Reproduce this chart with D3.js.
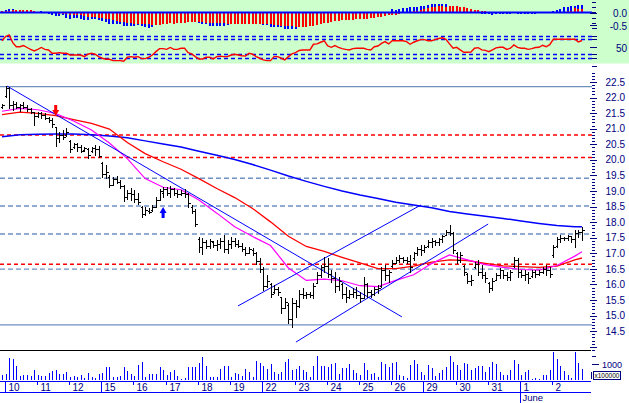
<!DOCTYPE html>
<html><head><meta charset="utf-8">
<script src="https://cdn.jsdelivr.net/npm/d3@7"></script>
<style>html,body{margin:0;padding:0;background:#fff;overflow:hidden}svg{display:block}</style>
</head><body><svg id="c" width="629" height="403"></svg>
<script>
// ---------------- DATA ----------------
const days = ["10","11","12","15","16","17","18","19","22","23","24","25","26","29","30","31","1","2"];
const monthLabel = "June";
const monthDayIndex = 16;
const longTickDays = [0,3,8,13];
const barsPerDay = 9;
const firstDayBar = 1;

const high = [21.78,
22.37,22.33,21.90,21.87,21.80,21.87,21.76,21.65,21.55,
21.55,21.55,21.49,21.37,21.33,21.07,20.90,20.96,21.01,
20.64,20.55,20.53,20.48,20.42,20.37,20.42,20.48,20.45,
19.94,19.83,19.51,19.46,19.48,19.35,19.20,19.03,19.09,
19.03,18.93,18.52,18.50,18.44,18.55,18.80,19.08,19.14,
19.14,19.16,19.09,19.03,19.03,19.05,18.93,18.55,18.41,
17.51,17.48,17.43,17.45,17.40,17.43,17.48,17.59,17.43,
17.53,17.48,17.43,17.32,17.21,17.21,17.16,17.05,16.84,
16.57,16.30,16.04,15.98,15.93,15.61,15.55,15.39,15.55,
15.50,15.82,15.88,15.77,15.77,16.04,16.41,16.63,16.89,
16.84,16.46,16.41,16.25,16.04,15.93,15.82,15.88,15.93,
15.77,16.25,16.04,15.82,15.93,15.98,16.57,16.63,16.46,
16.79,16.89,16.95,16.89,16.89,16.95,17.05,17.21,17.27,
17.27,17.43,17.48,17.43,17.48,17.59,17.75,17.91,17.70,
17.05,17.05,16.63,16.36,16.30,16.73,16.79,16.63,16.41,
16.09,16.20,16.36,16.52,16.46,16.41,16.46,16.89,16.84,
16.46,16.46,16.41,16.46,16.46,16.46,16.57,16.63,16.57,
17.27,17.53,17.59,17.53,17.59,17.53,17.75,17.75,17.85];
const low = [21.68,
22.03,21.65,21.60,21.65,21.58,21.65,21.58,21.49,21.12,
21.39,21.36,21.30,21.23,21.07,20.45,20.58,20.66,20.77,
20.26,20.37,20.30,20.26,20.29,20.05,20.26,20.16,20.08,
19.46,19.41,19.12,19.19,19.25,19.09,18.69,18.76,18.71,
18.66,18.58,18.18,18.23,18.28,18.37,18.48,18.70,18.82,
18.87,18.82,18.87,18.82,18.87,18.82,18.50,18.28,17.88,
17.05,16.98,17.16,17.16,17.21,17.11,17.18,17.05,17.02,
17.16,17.23,17.21,17.09,16.95,17.00,16.95,16.66,16.41,
15.82,15.93,15.61,15.72,15.66,15.07,15.23,14.75,14.65,
14.97,15.29,15.56,15.56,15.61,15.55,16.04,16.25,16.41,
16.25,16.09,15.77,15.82,15.56,15.45,15.56,15.61,15.56,
15.45,15.55,15.61,15.61,15.66,15.72,15.93,16.14,16.09,
16.57,16.68,16.73,16.73,16.68,16.41,16.79,16.95,16.95,
17.05,17.21,17.21,17.27,17.27,17.37,17.59,17.59,17.00,
16.68,16.73,16.30,16.04,15.98,16.52,16.30,16.20,16.09,
15.77,15.82,16.14,16.20,16.20,16.14,16.14,16.57,16.25,
16.25,16.14,16.04,16.25,16.25,16.30,16.36,16.30,16.25,
16.89,17.21,17.37,17.43,17.43,17.37,17.21,17.53,17.43];
const open = [21.70,
22.05,22.30,21.75,21.80,21.70,21.75,21.70,21.62,21.55,
21.42,21.50,21.45,21.35,21.28,21.05,20.70,20.80,20.80,
20.60,20.40,20.50,20.40,20.32,20.35,20.28,20.38,20.35,
19.90,19.55,19.45,19.20,19.38,19.30,19.15,18.80,18.95,
18.90,18.75,18.50,18.25,18.35,18.40,18.50,18.70,18.95,
19.05,18.95,19.05,18.95,18.90,18.95,18.90,18.50,18.35,
17.45,17.20,17.35,17.25,17.35,17.28,17.30,17.40,17.15,
17.30,17.40,17.30,17.25,17.15,17.00,17.10,17.00,16.75,
16.50,15.95,16.00,15.75,15.85,15.60,15.25,15.35,14.90,
15.40,15.30,15.70,15.65,15.70,15.65,16.05,16.30,16.55,
16.60,16.35,16.20,15.95,16.00,15.70,15.60,15.70,15.75,
15.65,15.55,16.00,15.75,15.70,15.85,15.95,16.45,16.30,
16.60,16.70,16.80,16.85,16.80,16.75,16.85,17.00,17.15,
17.10,17.22,17.35,17.40,17.35,17.45,17.60,17.70,17.65,
17.00,16.80,16.60,16.35,16.10,16.55,16.65,16.40,16.30,
16.05,15.90,16.15,16.30,16.45,16.30,16.25,16.60,16.80,
16.40,16.30,16.35,16.28,16.40,16.35,16.40,16.50,16.45,
16.95,17.25,17.45,17.50,17.48,17.55,17.45,17.65,17.70];
const close = [21.75,
22.30,21.75,21.80,21.70,21.75,21.70,21.62,21.55,21.40,
21.50,21.45,21.35,21.28,21.15,20.70,20.80,20.75,20.90,
20.35,20.50,20.40,20.30,20.38,20.15,20.38,20.35,20.12,
19.55,19.60,19.20,19.40,19.30,19.15,18.80,18.95,18.90,
18.75,18.65,18.25,18.40,18.32,18.50,18.70,19.00,19.05,
18.95,19.05,18.95,18.90,18.95,18.90,18.60,18.35,17.95,
17.20,17.35,17.25,17.40,17.28,17.30,17.40,17.15,17.30,
17.40,17.30,17.25,17.15,17.00,17.15,17.00,16.75,16.50,
15.95,16.10,15.70,15.85,15.75,15.25,15.45,14.90,15.40,
15.30,15.70,15.65,15.70,15.65,15.95,16.30,16.55,16.60,
16.35,16.20,15.95,16.10,15.70,15.60,15.70,15.75,15.65,
15.55,16.00,15.75,15.70,15.85,15.90,16.45,16.30,16.40,
16.70,16.80,16.85,16.80,16.75,16.55,17.00,17.15,17.10,
17.20,17.35,17.40,17.35,17.45,17.55,17.70,17.65,17.10,
16.80,16.95,16.40,16.10,16.15,16.65,16.40,16.30,16.20,
15.90,16.10,16.30,16.45,16.30,16.25,16.40,16.80,16.40,
16.30,16.35,16.20,16.40,16.35,16.40,16.50,16.45,16.35,
17.20,17.45,17.50,17.48,17.55,17.45,17.65,17.70,17.75];

const volume = [333,354,1354,1312,875,271,312,312,271,625,
312,271,271,417,562,625,375,375,521,208,
271,208,312,104,458,208,104,354,417,833,
792,167,167,250,833,562,354,250,937,1104,
167,375,375,375,833,625,312,521,625,250,
62,104,833,833,833,1083,1458,875,208,167,
208,687,875,875,208,417,354,250,687,521,
208,1187,1083,875,667,1000,479,354,521,1146,
1312,625,667,875,625,521,208,875,
1521,875,875,833,1000,1042,354,729,729,1000,
625,417,312,1042,625,375,458,208,1104,1000,
833,1042,1104,312,250,146,937,1250,1000,521,
312,937,729,250,417,625,833,1521,1146,937,
625,1083,1000,625,729,875,896,521,833,1146,
1000,521,312,312,625,1250,1000,312,521,625,
42,104,62,312,312,625,1771,1312,875,583,
312,104,1771,1083,667];

const macd = [0.04,0.10,0.13,0.13,0.10,0.08,0.07,0.06,0.05,0.03,0.03,0.05,0.01,
-0.07,-0.10,-0.14,-0.14,-0.10,-0.20,-0.24,-0.20,-0.20,-0.24,
-0.28,-0.30,-0.24,-0.24,-0.28,-0.33,-0.37,-0.46,-0.46,-0.46,-0.46,
-0.54,-0.54,-0.54,-0.54,-0.50,-0.54,-0.56,-0.60,-0.56,
-0.45,-0.40,-0.38,-0.36,-0.34,-0.33,-0.32,-0.31,-0.30,-0.31,-0.33,-0.36,
-0.43,-0.46,-0.46,-0.54,-0.54,-0.54,-0.54,-0.54,-0.50,
-0.44,-0.42,-0.40,-0.40,-0.41,-0.40,-0.41,-0.43,-0.45,
-0.50,-0.50,-0.56,-0.56,-0.56,-0.56,-0.63,-0.63,-0.63,-0.63,
-0.52,-0.50,-0.48,-0.45,-0.40,-0.35,-0.30,-0.25,-0.24,-0.22,-0.20,-0.22,-0.20,-0.22,-0.20,-0.18,-0.18,-0.20,-0.14,-0.15,-0.14,-0.12,-0.12,-0.06,-0.06,-0.04,
0.12,0.09,0.12,0.16,0.16,0.20,0.22,
0.22,0.25,0.25,0.29,0.33,0.35,0.33,0.35,0.33,0.24,0.22,
0.18,0.12,0.08,0.05,0.02,0.0,-0.02,-0.04,-0.05,-0.06,-0.10,
-0.04,-0.05,-0.04,-0.07,-0.05,-0.03,-0.04,-0.05,-0.04,-0.05,-0.04,-0.04,-0.02,-0.01,0.0,0.02,
0.05,0.09,0.13,0.20,0.22,0.25,0.25,0.29,0.29];
const signal = [0.05,0.06,0.07,0.09,0.10,0.09,0.09,0.09,0.09,0.06,0.02,0.02,0.0,
-0.01,-0.02,-0.03,-0.04,-0.05,-0.06,-0.08,-0.09,-0.10,-0.11,
-0.14,-0.17,-0.18,-0.19,-0.20,-0.22,-0.24,-0.26,-0.30,-0.33,-0.37,
-0.37,-0.41,-0.43,-0.44,-0.45,-0.46,-0.47,-0.46,-0.50,
-0.50,-0.50,-0.46,-0.46,-0.43,-0.46,-0.43,-0.41,-0.41,-0.37,-0.37,-0.37,
-0.37,-0.37,-0.40,-0.43,-0.43,-0.43,-0.43,-0.43,-0.46,
-0.46,-0.46,-0.46,-0.46,-0.46,-0.46,-0.46,-0.46,-0.46,
-0.46,-0.46,-0.46,-0.50,-0.50,-0.54,-0.54,-0.54,-0.54,-0.56,
-0.56,-0.56,-0.56,-0.54,-0.54,-0.50,-0.46,-0.43,-0.41,-0.37,-0.33,-0.33,-0.30,-0.30,-0.28,-0.28,-0.26,-0.24,-0.24,-0.24,-0.20,-0.20,-0.17,-0.17,-0.14,-0.10,
-0.08,-0.08,-0.04,-0.01,0.02,0.03,0.05,
0.05,0.08,0.12,0.16,0.20,0.22,0.25,0.25,0.22,0.25,0.25,
0.24,0.22,0.20,0.16,0.12,0.09,0.08,0.06,0.05,0.03,0.01,
0.0,-0.01,-0.02,-0.02,-0.03,-0.03,-0.03,-0.03,-0.03,-0.03,-0.03,-0.03,-0.03,-0.02,-0.02,-0.01,
0.0,0.01,0.02,0.03,0.05,0.07,0.16,0.12,0.14];

const osc = [66,77,81.5,61,50,50,53,48,43,39,43,48,43,41.5,32.6,32.6,34.3,32.6,32.6,28,
28,28,28,23.6,30,32.6,30,23.6,19.3,16.7,16.7,13,13,13,11.3,22,23.6,22,23.6,18.3,
18.3,22,28,37,45,45,43,48,43,43,46,46,34.3,30.8,23.6,17.5,17.5,22,22,
17.5,23.6,25,23.6,23.6,28,30,28,26,25,32.6,30,23.6,19.3,15,13,13,23.6,23.6,19.3,
15,23.6,30.8,34.3,40,41.5,41.5,41.5,56.6,57.5,62,66,52,48.5,53,48.5,45,43,41.5,45,
46,46,46,43,41.5,50,52,59,63.7,57.5,66,66,66,66,63.7,56.6,62,66,
69,69,66,66,69,72,74,70,57.5,46,48.5,41.5,35.3,35.3,36,46,47.7,41.5,40.5,37,
41.5,47,48.5,48.5,43,46,55,48.5,46,46,43,45,48,48.5,54,50,55.7,70,70,70,
70,70,70,70,63,66.6];

const maIdx = [0,5,10,15,20,25,30,35,40,45,50,55,60,65,70,75,80,85,90,95,100,105,110,115,120,125,130,135,140,145,150,155,160,162];
const maLong = [20.74,20.81,20.82,20.83,20.83,20.81,20.77,20.71,20.61,20.51,20.41,20.28,20.15,20.01,19.85,19.67,19.48,19.31,19.15,19.00,18.87,18.76,18.64,18.55,18.46,18.34,18.26,18.19,18.12,18.04,17.96,17.89,17.85,17.85];
const maMid = [21.45,21.53,21.49,21.42,21.29,21.17,20.99,20.56,20.20,19.94,19.70,19.40,19.08,18.79,18.44,18.01,17.55,17.22,17.06,16.87,16.69,16.51,16.51,16.59,16.72,16.79,16.77,16.68,16.60,16.57,16.55,16.59,16.79,16.85];
const maShort = [21.56,21.65,21.61,21.49,21.25,20.96,20.54,20.04,19.40,19.12,19.04,18.71,18.29,17.85,17.54,17.25,16.53,16.13,16.17,16.12,15.96,15.93,16.13,16.31,16.67,16.95,16.79,16.64,16.55,16.48,16.46,16.61,16.91,17.05];

const solidLevels = [22.35, 14.70];
const blueDashLevels = [19.41, 18.52, 17.62, 16.49];
const redDashLevels = [20.80, 20.08, 16.65];
const trendLines = [[1.4,22.37,111.7,14.96],[65.9,15.31,117.0,18.55],[82.1,14.15,135.8,17.94]];
const sellArrows = [[15, 21.41]];
const buyArrows = [[45, 18.49]];

const priceLabels = d3.range(14.5, 22.51, 0.5);
const oscLevels = [80, 70, 30, 20];
const oscTicks = [0, 20, 30, 50, 70, 80, 100];
const histLabels = [0.0, -0.5];
const volLabel = 1000;

// ---------------- DRAW ----------------
const svg = d3.select('#c');
const navy = '#000080';
const font = '"Liberation Sans", Arial, sans-serif';
const plotR = 592;
const n = high.length;

const x = d3.scaleLinear().domain([0, n - 1]).range([2, 2 + 3.58 * (n - 1)]);
const yP = d3.scaleLinear().domain([14.5, 22.5]).range([331.2, 82]);
const yH = d3.scaleLinear().domain([-0.5, 0]).range([25.2, 12.5]);
const yO = d3.scaleLinear().domain([0, 100]).range([65.5, 28]);
const yV = d3.scaleLinear().domain([0, 1000]).range([380, 364]);
const px = i => Math.round(x(i)) + 0.5;

// top panel background
svg.append('rect').attr('x',0).attr('y',0).attr('width',629).attr('height',63.5).attr('fill','#ccffcc');

// histogram (blue behind, red in front)
const gH = svg.append('g').attr('shape-rendering','crispEdges');
[[macd,'#0000ff'],[signal,'#ff0000']].forEach(([arr,col]) => {
  gH.selectAll(null).data(arr).enter().append('rect')
    .attr('x',(d,i)=>Math.round(x(i))-1).attr('width',2)
    .attr('y',d=>Math.min(yH(d),yH(0))).attr('height',d=>Math.abs(yH(d)-yH(0)))
    .attr('fill',col);
});
svg.append('line').attr('x1',0).attr('x2',plotR).attr('y1',yH(0)).attr('y2',yH(0))
  .attr('stroke','#0000ff').attr('stroke-width',2);

// oscillator
svg.selectAll(null).data(oscLevels).enter().append('line')
  .attr('x1',0).attr('x2',plotR).attr('y1',d=>Math.round(yO(d))+0.5).attr('y2',d=>Math.round(yO(d))+0.5)
  .attr('stroke','#0000ff').attr('stroke-width',1.3).attr('stroke-dasharray','4,3');
svg.append('path').datum(osc).attr('fill','none').attr('stroke','#ff0000').attr('stroke-width',1.4)
  .attr('d', d3.line().x((d,i)=>x(i)).y(d=>yO(d)));

// top axes ticks + labels
const gT = svg.append('g').attr('stroke',navy).attr('shape-rendering','crispEdges');
d3.range(-0.6, 0.41, 0.2).forEach(v => gT.append('line').attr('x1',592).attr('x2',596).attr('y1',Math.round(yH(v))+0.5).attr('y2',Math.round(yH(v))+0.5));
histLabels.forEach(v => gT.append('line').attr('x1',590).attr('x2',597).attr('y1',Math.round(yH(v))+0.5).attr('y2',Math.round(yH(v))+0.5));
oscTicks.forEach(v => gT.append('line').attr('x1',v===50?590:592).attr('x2',597).attr('y1',Math.round(yO(v))+0.5).attr('y2',Math.round(yO(v))+0.5));
histLabels.forEach(v => svg.append('text').attr('x',627).attr('y',yH(v)+4.5).attr('text-anchor','end')
  .attr('font-family',font).attr('font-size',10).attr('fill',navy).text(v.toFixed(1)));
svg.append('text').attr('x',627).attr('y',yO(50)+5).attr('text-anchor','end')
  .attr('font-family',font).attr('font-size',10).attr('fill',navy).text('50');

// main grid lines
const gG = svg.append('g');
gG.selectAll(null).data(solidLevels).enter().append('line')
  .attr('x1',0).attr('x2',plotR).attr('y1',d=>yP(d)).attr('y2',d=>yP(d))
  .attr('stroke','#7090c0').attr('stroke-width',1.3);
gG.selectAll(null).data(blueDashLevels).enter().append('line')
  .attr('x1',0).attr('x2',plotR).attr('y1',d=>yP(d)).attr('y2',d=>yP(d))
  .attr('stroke','#7090c0').attr('stroke-width',1.3).attr('stroke-dasharray','5,3');
gG.selectAll(null).data(redDashLevels).enter().append('line')
  .attr('x1',0).attr('x2',plotR).attr('y1',d=>yP(d)).attr('y2',d=>yP(d))
  .attr('stroke','#ff0000').attr('stroke-width',1.5).attr('stroke-dasharray','4,3');

// price axis
const gA = svg.append('g').attr('stroke',navy).attr('shape-rendering','crispEdges');
d3.range(139, 229).forEach(k => {
  const v = k / 10; const yy = Math.round(yP(v)) + 0.5;
  const major = k % 5 === 0;
  gA.append('line').attr('x1', major ? 590 : 592).attr('x2', major ? 597 : 595).attr('y1',yy).attr('y2',yy);
});
svg.selectAll(null).data(priceLabels).enter().append('text')
  .attr('x',625).attr('y',d=>yP(d)+3.6).attr('text-anchor','end')
  .attr('font-family',font).attr('font-size',10).attr('fill',navy).text(d=>d.toFixed(1));

// moving averages
const maLine = arr => d3.line().x((d,k)=>x(maIdx[k])).y(d=>yP(d))(arr);
svg.append('path').attr('d',maLine(maLong)).attr('fill','none').attr('stroke','#0000ff').attr('stroke-width',1.5);
svg.append('path').attr('d',maLine(maMid)).attr('fill','none').attr('stroke','#ff0000').attr('stroke-width',1.3);
svg.append('path').attr('d',maLine(maShort)).attr('fill','none').attr('stroke','#ff00ff').attr('stroke-width',1.2);

// trend lines
svg.selectAll(null).data(trendLines).enter().append('line')
  .attr('x1',d=>x(d[0])).attr('y1',d=>yP(d[1])).attr('x2',d=>x(d[2])).attr('y2',d=>yP(d[3]))
  .attr('stroke','#0000ff').attr('stroke-width',1);

// price bars
const gB = svg.append('g').attr('stroke','#000').attr('stroke-width',1).attr('shape-rendering','crispEdges');
for (let i = 0; i < n; i++) {
  const cx = px(i);
  gB.append('line').attr('x1',cx).attr('x2',cx).attr('y1',Math.round(yP(high[i]))).attr('y2',Math.round(yP(low[i]))+1);
  gB.append('line').attr('x1',cx-2).attr('x2',cx).attr('y1',Math.round(yP(open[i]))+0.5).attr('y2',Math.round(yP(open[i]))+0.5);
  gB.append('line').attr('x1',cx).attr('x2',cx+2).attr('y1',Math.round(yP(close[i]))+0.5).attr('y2',Math.round(yP(close[i]))+0.5);
}

// arrows
sellArrows.forEach(([i,p]) => {
  const cx = x(i), ty = yP(p);
  svg.append('path').attr('fill','#ff0000')
    .attr('d',`M${cx},${ty} L${cx-3.5},${ty-6} L${cx-1.5},${ty-6} L${cx-1.5},${ty-11} L${cx+1.5},${ty-11} L${cx+1.5},${ty-6} L${cx+3.5},${ty-6} Z`);
});
buyArrows.forEach(([i,p]) => {
  const cx = x(i), ty = yP(p);
  svg.append('path').attr('fill','#0000ff')
    .attr('d',`M${cx},${ty} L${cx-3.5},${ty+6} L${cx-1.5},${ty+6} L${cx-1.5},${ty+11} L${cx+1.5},${ty+11} L${cx+1.5},${ty+6} L${cx+3.5},${ty+6} Z`);
});

// volume panel
svg.append('line').attr('x1',0).attr('x2',591).attr('y1',350.5).attr('y2',350.5).attr('stroke','#000').attr('stroke-width',1.2);
const gV = svg.append('g').attr('stroke','#0000ff').attr('shape-rendering','crispEdges');
volume.forEach((v,i) => {
  gV.append('line').attr('x1',px(i)).attr('x2',px(i)).attr('y1',yV(0)).attr('y2',yV(v));
});
// volume axis
const gVA = svg.append('g').attr('stroke',navy).attr('shape-rendering','crispEdges');
gVA.append('line').attr('x1',592).attr('x2',599).attr('y1',Math.round(yV(volLabel))+0.5).attr('y2',Math.round(yV(volLabel))+0.5);
gVA.append('line').attr('x1',592).attr('x2',596).attr('y1',Math.round(yV(1500))+0.5).attr('y2',Math.round(yV(1500))+0.5);
svg.append('text').attr('x',622).attr('y',yV(volLabel)+3.5).attr('text-anchor','end')
  .attr('font-family',font).attr('font-size',9).attr('fill',navy).text(d3.format('d')(volLabel));
svg.append('rect').attr('x',593.5).attr('y',371.5).attr('width',27).attr('height',8)
  .attr('fill','#fff').attr('stroke',navy).attr('stroke-width',1).attr('shape-rendering','crispEdges');
svg.append('line').attr('x1',591.5).attr('x2',591.5).attr('y1',372).attr('y2',379).attr('stroke',navy);
svg.append('text').attr('x',594.5).attr('y',378.3).attr('font-family',font).attr('font-size',6.5)
  .attr('fill','#000').text('x100000');

// date axis
const gX = svg.append('g').attr('stroke','#0000ff').attr('shape-rendering','crispEdges');
gX.append('line').attr('x1',0).attr('x2',591).attr('y1',381.5).attr('y2',381.5);
gX.append('line').attr('x1',0).attr('x2',591).attr('y1',392.5).attr('y2',392.5);
days.forEach((d,k) => {
  const tx = Math.round(x(firstDayBar + k * barsPerDay)) - 0.5;
  let y2 = 384.5;
  if (longTickDays.includes(k)) y2 = 392;
  if (k === monthDayIndex) y2 = 403;
  gX.append('line').attr('x1',tx).attr('x2',tx).attr('y1',381).attr('y2',y2);
  svg.append('text').attr('x',tx+3).attr('y',391).attr('font-family',font).attr('font-size',10)
    .attr('fill',navy).text(d);
});
svg.append('text').attr('x',Math.round(x(firstDayBar + monthDayIndex*barsPerDay))+1.5).attr('y',401)
  .attr('font-family',font).attr('font-size',9.5).attr('fill',navy).text(monthLabel);
</script>
</body></html>
